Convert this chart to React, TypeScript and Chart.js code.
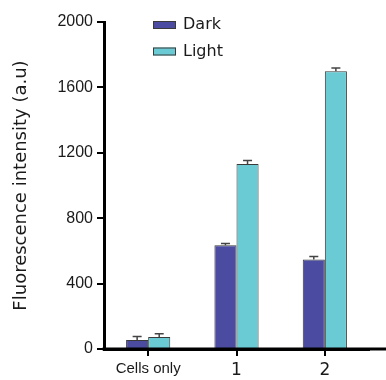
import React, { useEffect, useRef } from "react";
import { Chart, registerables } from "chart.js";

Chart.register(...registerables);

const categories = ["Cells only", "1", "2"];
const seriesNames = ["Dark", "Light"];
const darkValues = [55, 635, 547];
const darkErrors = [22, 10, 18];
const lightValues = [73, 1131, 1699];
const lightErrors = [21, 22, 20];
const yTicks = [0, 400, 800, 1200, 1600, 2000];

const DARK = "#4b4ca1";
const LIGHT = "#6bcbd4";
const EDGE = "#3a3a3a";

const errorBarPlugin = {
  id: "errorBars",
  afterDatasetsDraw(chart: any) {
    const { ctx } = chart;
    const yScale = chart.scales.y;
    const errs = [darkErrors, lightErrors];
    chart.data.datasets.forEach((ds: any, di: number) => {
      const meta = chart.getDatasetMeta(di);
      meta.data.forEach((el: any, i: number) => {
        const v = ds.data[i];
        const yTop = yScale.getPixelForValue(v + errs[di][i]);
        ctx.save();
        ctx.strokeStyle = "#444";
        ctx.lineWidth = 1.5;
        ctx.beginPath();
        ctx.moveTo(el.x, el.y);
        ctx.lineTo(el.x, yTop);
        ctx.moveTo(el.x - 4.5, yTop);
        ctx.lineTo(el.x + 4.5, yTop);
        ctx.stroke();
        ctx.restore();
      });
    });
  },
};

const axisExtendPlugin = {
  id: "axisExtend",
  afterDraw(chart: any) {
    const { ctx, chartArea, width } = chart;
    ctx.save();
    ctx.strokeStyle = "#000";
    ctx.lineWidth = 3;
    ctx.beginPath();
    ctx.moveTo(chartArea.left - 1.5, chartArea.bottom);
    ctx.lineTo(width, chartArea.bottom);
    ctx.stroke();
    ctx.restore();
  },
};

const legendPlugin = {
  id: "customLegend",
  afterDraw(chart: any) {
    const { ctx } = chart;
    const colors = [DARK, LIGHT];
    ctx.save();
    seriesNames.forEach((name, i) => {
      const cy = 25 + i * 26.5;
      ctx.fillStyle = colors[i];
      ctx.fillRect(153, cy - 4, 23, 8);
      ctx.strokeStyle = EDGE;
      ctx.lineWidth = 1;
      ctx.strokeRect(153.5, cy - 3.5, 22, 7);
      ctx.fillStyle = "#1a1a1a";
      ctx.font = "16px 'DejaVu Sans'";
      ctx.textBaseline = "middle";
      ctx.textAlign = "left";
      ctx.fillText(name, 183, cy);
    });
    ctx.restore();
  },
};

export default function App() {
  const ref = useRef<HTMLCanvasElement | null>(null);
  useEffect(() => {
    if (!ref.current) return;
    const chart = new Chart(ref.current, {
      type: "bar",
      data: {
        labels: categories,
        datasets: [
          {
            label: seriesNames[0],
            data: darkValues,
            backgroundColor: DARK,
            borderColor: EDGE,
            borderWidth: 1,
            categoryPercentage: 0.5,
            barPercentage: 1,
          },
          {
            label: seriesNames[1],
            data: lightValues,
            backgroundColor: LIGHT,
            borderColor: EDGE,
            borderWidth: 1,
            categoryPercentage: 0.5,
            barPercentage: 1,
          },
        ],
      },
      options: {
        responsive: false,
        animation: false,
        devicePixelRatio: 1,
        layout: { padding: { top: 22, right: 17, left: 0, bottom: 0 } },
        plugins: {
          legend: { display: false },
          tooltip: { enabled: false },
        },
        scales: {
          x: {
            offset: true,
            z: 1,
            border: { display: true, color: "#000", width: 3 },
            grid: {
              display: true,
              offset: false,
              drawOnChartArea: false,
              drawTicks: true,
              tickLength: 7,
              color: "#000",
              lineWidth: 2,
            },
            ticks: {
              color: "#1a1a1a",
              padding: 4,
              maxRotation: 0,
              font: (c: any) =>
                c.index === 0
                  ? { family: "'Liberation Sans'", size: 15 }
                  : { family: "'DejaVu Sans'", size: 17 },
            },
            afterFit(scale: any) {
              scale.height = 31;
            },
          },
          y: {
            min: 0,
            max: 2000,
            z: 1,
            border: { display: true, color: "#000", width: 3 },
            grid: {
              display: true,
              drawOnChartArea: false,
              drawTicks: true,
              tickLength: 7,
              color: "#000",
              lineWidth: 2,
            },
            afterBuildTicks(scale: any) {
              scale.ticks = yTicks.map((v) => ({ value: v }));
            },
            ticks: {
              color: "#1a1a1a",
              padding: 4,
              font: { family: "'Liberation Sans'", size: 16 },
              callback: (v: any) => String(v),
            },
            title: {
              display: true,
              text: "Fluorescence intensity (a.u)",
              color: "#1a1a1a",
              font: { family: "'DejaVu Sans'", size: 18 },
              padding: { top: 11, bottom: 0 },
            },
            afterFit(scale: any) {
              scale.width = 104;
            },
          },
        },
      },
      plugins: [errorBarPlugin, axisExtendPlugin, legendPlugin],
    });
    return () => chart.destroy();
  }, []);
  return (
    <div style={{ position: "absolute", left: 0, top: 0, width: 386, height: 380, background: "#fff" }}>
      <canvas ref={ref} width={386} height={380} style={{ display: "block" }} />
    </div>
  );
}
